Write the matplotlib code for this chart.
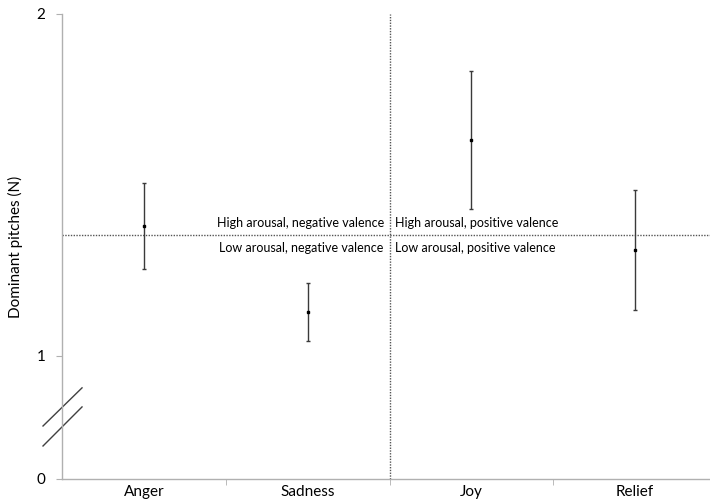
import matplotlib.pyplot as plt
import numpy as np
from matplotlib.lines import Line2D

emotions = ["Anger", "Sadness", "Joy", "Relief"]
means = [1.380, 1.129, 1.632, 1.310]
err_low = [0.126, 0.085, 0.202, 0.175]
err_high = [0.126, 0.084, 0.201, 0.175]
y_ticks = [0, 1, 2]
midpoint = 1.354
quadrants = [
    ("High arousal, negative valence", "right", "bottom"),
    ("Low arousal, negative valence", "right", "top"),
    ("High arousal, positive valence", "left", "bottom"),
    ("Low arousal, positive valence", "left", "top"),
]

SQUASH = 0.36  # the 0-1 span is drawn compressed (broken axis)


def forward(y):
    y = np.asarray(y, dtype=float)
    return np.where(y < 1, y * SQUASH, SQUASH + (y - 1))


def inverse(z):
    z = np.asarray(z, dtype=float)
    return np.where(z < SQUASH, z / SQUASH, 1 + (z - SQUASH))


plt.rcParams["font.family"] = ["Lato", "DejaVu Sans"]

fig = plt.figure(figsize=(7.10, 4.99), dpi=100)
ax = fig.add_axes([62 / 710, 20 / 499, 648 / 710, 465 / 499])

ax.set_yscale("function", functions=(forward, inverse))
ax.set_ylim(0, 2)
x = np.arange(len(emotions))
ax.set_xlim(-0.5, 3.457)

ax.errorbar(x, means, yerr=[err_low, err_high], fmt="none", ecolor="#3a3a3a",
            elinewidth=1.0, capsize=1.5, capthick=1.0, zorder=3)
ax.plot(x, means, ls="none", marker="s", ms=2, color="black", zorder=4)

ax.axhline(midpoint, color="#555555", lw=1.0, ls=(0, (1, 1)), zorder=2)
ax.axvline(1.5, color="#555555", lw=1.0, ls=(0, (1, 1)), zorder=2)

for label, ha, va in quadrants:
    xt = 1.5 - 0.035 if ha == "right" else 1.5 + 0.035
    off = 4 if va == "bottom" else -5
    ax.annotate(label, (xt, midpoint), xytext=(0, off), textcoords="offset points",
                ha=ha, va=va, fontsize=9, color="black")

for s in ["top", "right"]:
    ax.spines[s].set_visible(False)
for s in ["left", "bottom"]:
    ax.spines[s].set_color("#b0b0b0")
    ax.spines[s].set_linewidth(1.0)

ax.set_yticks(y_ticks)
ax.set_yticklabels([str(t) for t in y_ticks], fontsize=11)
ax.tick_params(axis="y", length=4, color="#b0b0b0", pad=8)

ax.set_xticks(x)
ax.set_xticklabels(emotions, fontsize=11)
ax.set_xticks([0.5, 1.5, 2.5], minor=True)
ax.tick_params(axis="x", which="major", length=0, pad=4)
ax.tick_params(axis="x", which="minor", length=4, color="#b0b0b0")

ax.set_ylabel("Dominant pitches (N)", fontsize=11, labelpad=10)

# axis break marks
for y0, y1 in [(0.114, 0.196), (0.071, 0.155)]:
    ax.add_line(Line2D([-0.0293, 0.0309], [y0, y1], transform=ax.transAxes,
                       color="#404040", lw=1.0, clip_on=False))

fig.savefig("out.png", dpi=100)
